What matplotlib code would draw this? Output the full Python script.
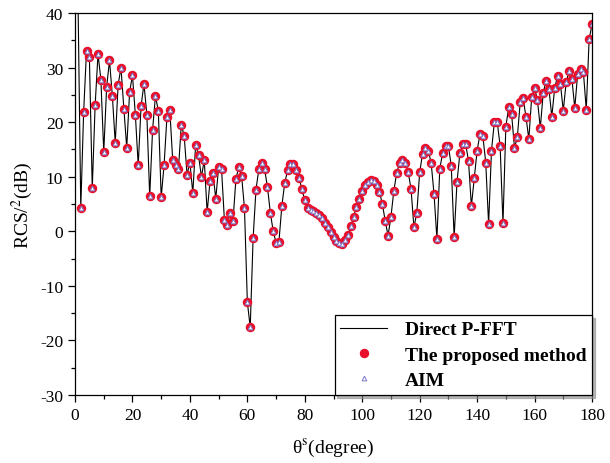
import numpy as np
import matplotlib
matplotlib.use('Agg')
import matplotlib.pyplot as plt
from matplotlib.ticker import MultipleLocator

plt.rcParams['font.family'] = ['Liberation Serif', 'DejaVu Serif']
plt.rcParams['mathtext.fontset'] = 'stix'
plt.rcParams['axes.unicode_minus'] = False

# scattering angle, 1 degree steps
theta = np.arange(0, 181)

# bistatic RCS from direct P-FFT
rcs_pfft = [
    46.0, 44.0, 4.2, 21.9, 33.1, 31.9, 7.9, 23.1, 32.5, 27.8,
    14.5, 26.4, 31.3, 24.8, 16.2, 26.8, 30.0, 22.5, 15.3, 25.5,
    28.6, 21.4, 12.1, 23.0, 27.0, 21.4, 6.4, 18.6, 24.8, 22.1,
    6.2, 12.1, 20.9, 22.2, 13.1, 12.2, 11.4, 19.5, 17.5, 10.4,
    12.6, 7.0, 15.9, 13.9, 10.0, 13.0, 3.5, 9.2, 10.7, 6.0,
    11.7, 11.5, 2.1, 1.2, 3.4, 1.8, 9.5, 11.8, 10.1, 4.2,
    -13.0, -17.6, -1.3, 7.6, 11.4, 12.5, 11.4, 8.1, 3.4, 0.0,
    -2.1, -1.9, 4.6, 8.8, 11.2, 12.3, 12.3, 11.3, 9.8, 7.7,
    5.7, 4.2, 3.9, 3.7, 3.4, 3.0, 2.5, 1.6, 0.7, -0.2,
    -1.0, -1.7, -2.2, -2.3, -1.6, -0.7, 0.9, 2.7, 4.5, 6.0,
    7.4, 8.5, 9.1, 9.4, 9.3, 8.5, 7.2, 5.0, 1.9, -0.8,
    2.7, 7.4, 10.7, 12.6, 13.1, 12.6, 10.9, 7.7, 0.7, 3.4,
    10.8, 14.2, 15.2, 14.8, 12.5, 6.8, -1.4, 11.5, 14.3, 15.7,
    15.7, 11.9, -1.1, 9.1, 14.3, 16.0, 16.0, 12.9, 4.6, 9.7,
    14.8, 17.8, 17.4, 12.6, 1.3, 14.8, 20.0, 20.0, 15.7, 1.5,
    19.2, 22.7, 21.5, 15.3, 17.2, 23.7, 24.4, 21.0, 16.9, 24.6,
    26.2, 24.1, 18.9, 25.3, 27.6, 26.1, 21.0, 26.2, 28.5, 27.0,
    22.1, 27.3, 29.3, 27.9, 22.6, 28.8, 29.7, 29.2, 22.3, 35.2,
    37.9,
]
# the two other solvers agree with the reference solution
rcs_proposed = list(rcs_pfft)
rcs_aim = list(rcs_pfft)

fig = plt.figure(figsize=(6.1, 4.64), dpi=100)
ax = fig.add_axes([0.123, 0.1466, 0.8475, 0.8232])

ax.plot(theta, rcs_pfft, color='black', lw=0.8, label='Direct P-FFT')
ax.plot(theta, rcs_proposed, ls='none', marker='o', ms=5.8,
        mfc='#e8102a', mec='#e8102a', label='The proposed method')
ax.plot(theta, rcs_aim, ls='none', marker='^', ms=3.4, mfc='white',
        mec='#7b78c8', mew=0.7, label='AIM')

ax.set_xlim(0, 180)
ax.set_ylim(-30, 40)
ax.xaxis.set_major_locator(MultipleLocator(20))
ax.xaxis.set_minor_locator(MultipleLocator(10))
ax.yaxis.set_major_locator(MultipleLocator(10))
ax.yaxis.set_minor_locator(MultipleLocator(5))
ax.tick_params(which='both', direction='out', top=False, right=False,
               labelsize=12.5)
ax.tick_params(which='major', length=5, width=0.9)
ax.tick_params(which='minor', length=3, width=0.9)
for sp in ax.spines.values():
    sp.set_linewidth(0.9)

ax.set_xlabel('θ$^{\\mathrm{s}}$(degree)', fontsize=14, labelpad=10)
ax.set_ylabel('RCS/$^{2}$(dB)', fontsize=14, labelpad=4)

leg = ax.legend(loc='lower right', borderaxespad=0, fancybox=False,
                shadow={'color': '0.55', 'alpha': 0.6}, edgecolor='black',
                framealpha=1, prop={'weight': 'bold', 'size': 14},
                handlelength=2.4, labelspacing=0.4, borderpad=0.3,
                handletextpad=0.9)
leg.get_frame().set_linewidth(0.9)

fig.savefig('out.png', dpi=100)
